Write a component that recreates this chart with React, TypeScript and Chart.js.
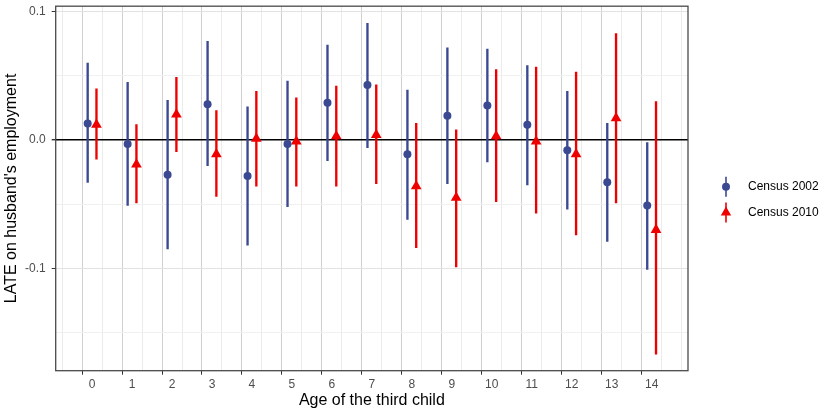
import React, { useEffect, useRef } from 'react';
import { Chart, registerables } from 'chart.js';

Chart.register(...registerables);

// ---- data ----
const categories = ['0', '1', '2', '3', '4', '5', '6', '7', '8', '9', '10', '11', '12', '13', '14'];

const seriesNames = ['Census 2002', 'Census 2010'];

const mid2002 = [0.013, -0.003, -0.027, 0.028, -0.028, -0.003, 0.029, 0.043, -0.011, 0.019, 0.027, 0.012, -0.008, -0.033, -0.051];
const low2002 = [-0.033, -0.051, -0.085, -0.020, -0.082, -0.052, -0.016, -0.006, -0.062, -0.034, -0.017, -0.035, -0.054, -0.079, -0.101];
const high2002 = [0.060, 0.045, 0.031, 0.077, 0.026, 0.046, 0.074, 0.091, 0.039, 0.072, 0.071, 0.058, 0.038, 0.013, -0.002];

const mid2010 = [0.012, -0.019, 0.020, -0.011, 0.001, -0.001, 0.003, 0.004, -0.036, -0.045, 0.003, -0.001, -0.011, 0.017, -0.070];
const low2010 = [-0.015, -0.049, -0.009, -0.044, -0.036, -0.036, -0.036, -0.034, -0.084, -0.099, -0.048, -0.057, -0.074, -0.049, -0.167];
const high2010 = [0.040, 0.012, 0.049, 0.023, 0.038, 0.033, 0.042, 0.043, 0.013, 0.008, 0.055, 0.057, 0.053, 0.083, 0.030];

const yTickValues = [-0.15, -0.1, -0.05, 0, 0.05, 0.1];
const yTickLabels: Record<string, string> = { '-0.1': '-0.1', '0': '0.0', '0.1': '0.1' };

// ---- styling ----
const FONT = '"Liberation Sans", Arial, Helvetica, sans-serif';
const BLUE = '#3B4992';
const RED = '#EE0000';
const DODGE = 0.11;

const xGridValues: number[] = [];
for (let i = -1; i <= categories.length * 2 - 1; i++) xGridValues.push(i / 2);

const isMajorX = (v: number) => Number.isInteger(v) && v >= 0;
const isMajorY = (v: number) => Math.abs(v * 10 - Math.round(v * 10)) < 1e-9;

const panelAndLegend = {
  id: 'panelAndLegend',
  afterDraw(chart: any) {
    const { ctx, chartArea } = chart;
    ctx.save();
    // panel border
    ctx.strokeStyle = '#4a4a4a';
    ctx.lineWidth = 1.3;
    ctx.strokeRect(chartArea.left, chartArea.top, chartArea.right - chartArea.left, chartArea.bottom - chartArea.top);

    // legend
    const lx = 726;
    const items = [
      { name: seriesNames[0], color: BLUE, shape: 'circle', cy: 186.7 },
      { name: seriesNames[1], color: RED, shape: 'triangle', cy: 212.5 },
    ];
    items.forEach((it) => {
      ctx.strokeStyle = it.color;
      ctx.fillStyle = it.color;
      ctx.lineWidth = 1.6;
      ctx.beginPath();
      ctx.moveTo(lx, it.cy - 10);
      ctx.lineTo(lx, it.cy + 10);
      ctx.stroke();
      ctx.beginPath();
      if (it.shape === 'circle') {
        ctx.arc(lx, it.cy, 4, 0, Math.PI * 2);
      } else {
        const r = 6;
        ctx.moveTo(lx, it.cy - r);
        ctx.lineTo(lx + r * Math.sin((2 * Math.PI) / 3), it.cy - r * Math.cos((2 * Math.PI) / 3));
        ctx.lineTo(lx + r * Math.sin((4 * Math.PI) / 3), it.cy - r * Math.cos((4 * Math.PI) / 3));
        ctx.closePath();
      }
      ctx.fill();
      ctx.fillStyle = '#000';
      ctx.font = `12px ${FONT}`;
      ctx.textAlign = 'left';
      ctx.textBaseline = 'middle';
      ctx.fillText(it.name, 748, it.cy);
    });
    ctx.restore();
  },
};

export default function App() {
  const ref = useRef<HTMLCanvasElement>(null);

  useEffect(() => {
    document.body.style.margin = '0';
    const canvas = ref.current;
    if (!canvas) return;

    const barData = (low: number[], high: number[], off: number) =>
      categories.map((_, i) => ({ x: i + off, y: [low[i], high[i]] }));
    const ptData = (mid: number[], off: number) =>
      categories.map((_, i) => ({ x: i + off, y: mid[i] }));

    const chart = new Chart(canvas, {
      type: 'scatter',
      data: {
        datasets: [
          {
            type: 'bar',
            label: seriesNames[0] + ' CI',
            data: barData(low2002, high2002, -DODGE) as any,
            backgroundColor: BLUE,
            borderWidth: 0,
            barThickness: 1.7,
            grouped: false,
            order: 3,
          } as any,
          {
            type: 'bar',
            label: seriesNames[1] + ' CI',
            data: barData(low2010, high2010, DODGE) as any,
            backgroundColor: RED,
            borderWidth: 0,
            barThickness: 1.7,
            grouped: false,
            order: 3,
          } as any,
          {
            type: 'scatter',
            label: seriesNames[0],
            data: ptData(mid2002, -DODGE),
            pointStyle: 'circle',
            pointRadius: 4,
            backgroundColor: BLUE,
            borderWidth: 0,
            order: 1,
          },
          {
            type: 'scatter',
            label: seriesNames[1],
            data: ptData(mid2010, DODGE),
            pointStyle: 'triangle',
            pointRadius: 6.2,
            backgroundColor: RED,
            borderWidth: 0,
            order: 1,
          },
        ],
      },
      options: {
        responsive: false,
        animation: false,
        events: [],
        layout: { padding: { top: 5, right: 146, bottom: 0, left: 0 } },
        plugins: {
          legend: { display: false },
          tooltip: { enabled: false },
        },
        scales: {
          x: {
            type: 'linear',
            min: -0.91,
            max: categories.length - 1 + 0.91,
            offset: false,
            afterBuildTicks: (s: any) => {
              s.ticks = xGridValues.map((v) => ({ value: v }));
            },
            afterFit: (s: any) => {
              s.height = 40.3;
              s.paddingLeft = 0;
              s.paddingRight = 0;
            },
            ticks: {
              autoSkip: false,
              maxRotation: 0,
              padding: 3,
              color: '#4d4d4d',
              font: { family: FONT, size: 12 },
              callback: (v: any) => (isMajorX(Number(v)) ? categories[Number(v)] : ''),
            },
            grid: {
              color: (c: any) => (isMajorX(c.tick?.value) ? '#d0d0d0' : '#ebebeb'),
              lineWidth: 1,
              drawTicks: true,
              tickLength: 4,
              tickColor: (c: any) => (isMajorX(c.tick?.value) ? '#333' : 'rgba(0,0,0,0)'),
            },
            border: { display: false },
            title: {
              display: true,
              text: 'Age of the third child',
              color: '#000',
              font: { family: FONT, size: 16 },
              padding: { top: 0, bottom: 1 },
            },
          },
          y: {
            type: 'linear',
            min: -0.1799,
            max: 0.1044,
            afterBuildTicks: (s: any) => {
              s.ticks = yTickValues.map((v) => ({ value: v }));
            },
            afterFit: (s: any) => {
              s.width = 55.7;
              s.paddingTop = 0;
              s.paddingBottom = 0;
            },
            ticks: {
              autoSkip: false,
              padding: 6,
              color: '#4d4d4d',
              font: { family: FONT, size: 12 },
              callback: (v: any) => {
                const key = String(Math.round(Number(v) * 100) / 100);
                return yTickLabels[key] ?? '';
              },
            },
            grid: {
              color: (c: any) => {
                const v = c.tick?.value;
                if (v === 0) return '#000';
                return isMajorY(v) ? '#e2e2e2' : '#f0f0f0';
              },
              lineWidth: (c: any) => (c.tick?.value === 0 ? 1.4 : 1),
              drawTicks: true,
              tickLength: 4,
              tickColor: (c: any) => (isMajorY(c.tick?.value) ? '#333' : 'rgba(0,0,0,0)'),
            },
            border: { display: false },
            title: {
              display: true,
              text: "LATE on husband's employment",
              color: '#000',
              font: { family: FONT, size: 16 },
              padding: { top: 2, bottom: 0 },
            },
          },
        },
      },
      plugins: [panelAndLegend],
    } as any);

    return () => chart.destroy();
  }, []);

  return (
    <div style={{ position: 'absolute', left: 0, top: 0, width: 834, height: 411 }}>
      <canvas ref={ref} width={834} height={411} style={{ display: 'block' }} />
    </div>
  );
}
